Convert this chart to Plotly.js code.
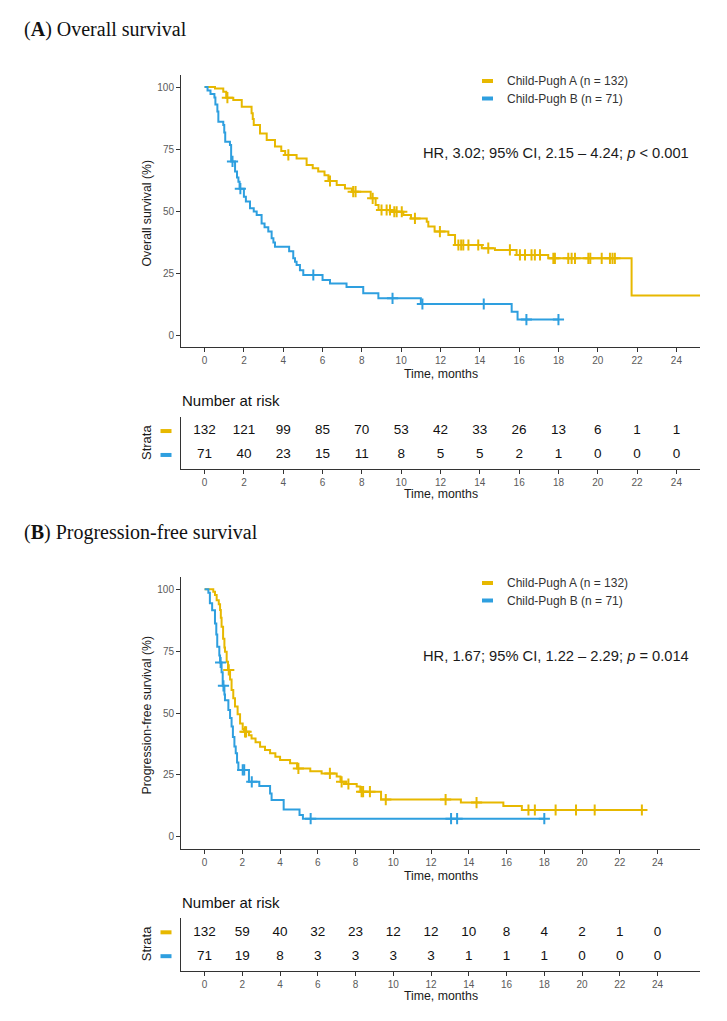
<!DOCTYPE html>
<html><head><meta charset="utf-8">
<script src="https://cdn.plot.ly/plotly-3.0.1.min.js"></script>
<style>html,body{margin:0;padding:0;background:#fff;}#chart{width:727px;height:1021px;}</style>
</head><body><div id="chart"></div>
<script>
// ---------- DATA ----------
const groupNames = ['Child-Pugh A (n = 132)', 'Child-Pugh B (n = 71)'];
const riskTimes = [0, 2, 4, 6, 8, 10, 12, 14, 16, 18, 20, 22, 24];

// Overall survival — Child-Pugh A
const osA_time = [0, 0.53, 0.95, 1.1, 1.46, 1.89, 2.39, 2.45, 2.5, 2.82, 3.16, 3.58, 3.9, 4.1, 4.68, 5.19, 5.5, 5.78, 6.1, 6.3, 6.72, 7.14, 7.5, 8.45, 8.7, 8.85, 9.55, 10.11, 10.5, 11.3, 11.38, 11.7, 12.4, 12.74, 14.1, 14.77, 15.87, 17.48, 21.72, 25.5];
const osA_surv = [100, 99.4, 98.1, 95.7, 94.8, 92.0, 89.4, 87.1, 84.7, 81.3, 78.6, 76.0, 74.2, 72.6, 71.2, 68.5, 67.2, 65.9, 64.4, 62.1, 60.5, 59.1, 57.8, 55.1, 52.4, 50.4, 49.7, 48.4, 47.0, 45.7, 43.7, 41.7, 40.3, 36.3, 35.0, 34.3, 32.3, 30.9, 15.9, 15.9];
const osA_censor = [1.16, 4.26, 6.38, 7.56, 7.68, 8.55, 9.0, 9.26, 9.43, 9.65, 9.77, 10.03, 10.7, 11.97, 12.91, 13.05, 13.16, 13.42, 13.92, 14.43, 15.53, 16.04, 16.3, 16.63, 16.8, 17.06, 17.74, 17.82, 18.5, 18.67, 18.84, 19.52, 19.62, 20.2, 20.62, 20.75, 20.87];

// Overall survival — Child-Pugh B
const osB_time = [0, 0.15, 0.3, 0.5, 0.55, 0.65, 0.7, 0.95, 1.0, 1.05, 1.29, 1.35, 1.55, 1.65, 1.72, 1.78, 2.0, 2.1, 2.31, 2.5, 2.65, 2.9, 3.05, 3.24, 3.41, 3.5, 3.58, 4.3, 4.51, 4.6, 4.68, 4.85, 5.02, 6.0, 6.38, 7.22, 8.07, 8.84, 11.0, 15.62, 15.92, 18.0];
const osB_surv = [100, 98.6, 97.2, 95.8, 92.9, 90.1, 86.0, 84.7, 81.7, 77.9, 76.6, 70.0, 65.9, 63.5, 61.8, 59.0, 55.7, 53.8, 51.1, 49.8, 48.4, 45.0, 43.4, 41.7, 39.0, 37.3, 35.6, 33.8, 30.9, 29.5, 28.2, 26.1, 24.2, 22.2, 20.8, 19.4, 16.8, 14.8, 12.5, 9.4, 6.2, 6.2];
const osB_censor = [1.42, 1.82, 5.53, 9.56, 11.08, 14.2, 16.37, 18.0];

// Progression-free survival — Child-Pugh A
const pfsA_time = [0, 0.46, 0.55, 0.64, 0.75, 0.82, 0.86, 0.9, 0.98, 1.05, 1.08, 1.17, 1.24, 1.35, 1.43, 1.52, 1.61, 1.75, 1.88, 2.02, 2.08, 2.35, 2.49, 2.7, 2.94, 3.2, 3.47, 3.75, 4.0, 4.53, 4.9, 5.6, 6.2, 7.0, 7.2, 7.5, 8.06, 8.25, 9.35, 13.58, 15.83, 16.81, 23.17];
const pfsA_surv = [100, 99.0, 97.7, 95.6, 93.9, 91.6, 88.5, 84.9, 80.0, 76.5, 74.8, 70.7, 67.4, 63.5, 59.3, 56.0, 52.6, 49.5, 45.8, 43.5, 42.4, 41.0, 39.7, 38.2, 36.4, 35.0, 33.7, 32.3, 31.0, 29.7, 27.6, 26.5, 25.6, 24.3, 22.2, 21.3, 20.3, 18.2, 15.0, 13.8, 12.4, 10.8, 10.8];
const pfsA_censor = [1.28, 2.14, 2.2, 4.97, 6.64, 7.26, 7.62, 8.32, 8.4, 8.76, 9.6, 12.77, 14.41, 17.16, 17.5, 18.6, 19.68, 20.67, 23.17];

// Progression-free survival — Child-Pugh B
const pfsB_time = [0, 0.2, 0.28, 0.4, 0.55, 0.62, 0.67, 0.78, 0.82, 0.9, 0.96, 1.05, 1.08, 1.26, 1.35, 1.43, 1.5, 1.58, 1.65, 1.72, 1.79, 2.35, 2.9, 3.47, 3.55, 4.19, 5.03, 5.21, 18.0];
const pfsB_surv = [100, 98.6, 94.4, 91.5, 86.2, 81.7, 76.8, 73.2, 70.4, 66.5, 61.0, 57.5, 55.2, 51.2, 48.0, 44.5, 40.3, 36.5, 33.7, 30.0, 27.0, 22.2, 20.5, 17.5, 14.8, 11.05, 8.8, 7.3, 7.3];
const pfsB_censor = [0.85, 1.0, 2.02, 2.1, 2.5, 5.62, 13.06, 13.38, 18.0];

// Numbers at risk
const osRiskA = [132, 121, 99, 85, 70, 53, 42, 33, 26, 13, 6, 1, 1];
const osRiskB = [71, 40, 23, 15, 11, 8, 5, 5, 2, 1, 0, 0, 0];
const pfsRiskA = [132, 59, 40, 32, 23, 12, 12, 10, 8, 4, 2, 1, 0];
const pfsRiskB = [71, 19, 8, 3, 3, 3, 3, 1, 1, 1, 0, 0, 0];

const osHR = 'HR, 3.02; 95% CI, 2.15 – 4.24; <i>p</i> &lt; 0.001';
const pfsHR = 'HR, 1.67; 95% CI, 1.22 – 2.29; <i>p</i> = 0.014';

// ---------- STYLE ----------
const COL = ['#E7B800', '#2E9FDF'];
const W = 727, H = 1021;
const fx = p => p / W, fy = p => 1 - p / H;
const SANS = 'Liberation Sans, Arial, sans-serif';

function survAt(times, surv, t) {
  let v = surv[0];
  for (let i = 0; i < times.length; i++) { if (times[i] <= t) v = surv[i]; else break; }
  return v;
}

const traces = [];
function addCurve(times, surv, cens, col, xa, ya) {
  traces.push({x: times, y: surv, xaxis: xa, yaxis: ya, mode: 'lines', type: 'scatter',
    line: {shape: 'hv', color: col, width: 2}, showlegend: false, hoverinfo: 'skip'});
  traces.push({x: cens, y: cens.map(t => survAt(times, surv, t)), xaxis: xa, yaxis: ya,
    mode: 'markers', type: 'scatter', showlegend: false, hoverinfo: 'skip',
    marker: {symbol: 'cross-thin', size: 8, color: col, line: {width: 2, color: col}}});
}
addCurve(osA_time, osA_surv, osA_censor, COL[0], 'x', 'y');
addCurve(osB_time, osB_surv, osB_censor, COL[1], 'x', 'y');
addCurve(pfsA_time, pfsA_surv, pfsA_censor, COL[0], 'x3', 'y3');
addCurve(pfsB_time, pfsB_surv, pfsB_censor, COL[1], 'x3', 'y3');

function addRisk(vals, row, xa, ya) {
  traces.push({x: riskTimes, y: riskTimes.map(() => row), text: vals.map(String), mode: 'text',
    type: 'scatter', xaxis: xa, yaxis: ya, cliponaxis: false, showlegend: false, hoverinfo: 'skip',
    textfont: {family: SANS, size: 13.5, color: '#111'}});
}
addRisk(osRiskA, 2, 'x2', 'y2');
addRisk(osRiskB, 1, 'x2', 'y2');
addRisk(pfsRiskA, 2, 'x4', 'y4');
addRisk(pfsRiskB, 1, 'x4', 'y4');

const tickFont = {family: SANS, size: 10, color: '#5a5a5a'};
function xAx(range, anchor) {
  return {domain: [fx(181), fx(700)], range: range, anchor: anchor, tickvals: riskTimes,
    ticks: 'outside', ticklen: 4, tickwidth: 1, tickcolor: '#333', showline: true,
    linecolor: '#333', linewidth: 1, zeroline: false, showgrid: false, tickfont: tickFont, fixedrange: true};
}
function yAx(top, bottom, anchor) {
  return {domain: [fy(bottom), fy(top)], range: [-5, 105], anchor: anchor, tickvals: [0, 25, 50, 75, 100],
    ticks: 'outside', ticklen: 4, tickwidth: 1, tickcolor: '#333', showline: true,
    linecolor: '#333', linewidth: 1, zeroline: false, showgrid: false, tickfont: tickFont, fixedrange: true};
}
function yTab(top, bottom, anchor) {
  return {domain: [fy(bottom), fy(top)], range: [0.4, 2.6], anchor: anchor, showticklabels: false,
    ticks: '', showline: true, linecolor: '#333', linewidth: 1, zeroline: false, showgrid: false, fixedrange: true};
}

const ann = [];
const shapes = [];
function txt(text, x, y, opts) {
  ann.push(Object.assign({text: text, x: fx(x), y: fy(y), xref: 'paper', yref: 'paper',
    showarrow: false, xanchor: 'left', yanchor: 'middle',
    font: {family: SANS, size: 12, color: '#1a1a1a'}}, opts || {}));
}
function swatch(x0, x1, y, col) {
  shapes.push({type: 'line', xref: 'paper', yref: 'paper', x0: fx(x0), x1: fx(x1), y0: fy(y), y1: fy(y),
    line: {color: col, width: 4}});
}

function panel(letter, title, yTitle, hr, off, plotTop, plotBot, tabTop, tabBot) {
  txt('(<b>' + letter + '</b>) ' + title, 22, 30 + off, {font: {family: 'Liberation Serif, Times New Roman, serif', size: 20, color: '#111'}});
  // legend
  swatch(482, 493, 81 + off, COL[0]);
  swatch(482, 493, 98.5 + off, COL[1]);
  txt(groupNames[0], 505, 81 + off, {font: {family: SANS, size: 12, color: '#333'}});
  txt(groupNames[1], 505, 98.5 + off, {font: {family: SANS, size: 12, color: '#333'}});
  // HR
  txt(hr, 421, 153.5 + off, {font: {family: SANS, size: 14.7, color: '#1a1a1a'}});
  // axis titles
  txt(yTitle, 146.5, (plotTop + plotBot) / 2 + 2, {xanchor: 'center', textangle: -90, font: {family: SANS, size: 12.3, color: '#1a1a1a'}});
  txt('Time, months', 440.5, plotBot + 27, {xanchor: 'center', font: {family: SANS, size: 12.3, color: '#1a1a1a'}});
  // risk table
  txt('Number at risk', 180, tabTop - 16, {font: {family: SANS, size: 15, color: '#111'}});
  txt('Strata', 146, (tabTop + tabBot) / 2, {xanchor: 'center', textangle: -90, font: {family: SANS, size: 13, color: '#1a1a1a'}});
  const unit = (tabBot - tabTop) / 2.2;
  swatch(160.5, 171.5, tabBot - 1.6 * unit, COL[0]);
  swatch(160.5, 171.5, tabBot - 0.6 * unit, COL[1]);
  txt('Time, months', 440.5, tabBot + 25, {xanchor: 'center', font: {family: SANS, size: 12.3, color: '#1a1a1a'}});
}
panel('A', 'Overall survival', 'Overall survival (%)', osHR, 0, 74.6, 347.4, 416.7, 469.3);
panel('B', 'Progression-free survival', 'Progression-free survival (%)', pfsHR, 502, 576.9, 849.1, 918, 970.5);

const layout = {
  width: W, height: H, margin: {l: 0, r: 0, t: 0, b: 0},
  paper_bgcolor: '#fff', plot_bgcolor: '#fff', showlegend: false,
  xaxis: xAx([-1.2, 25.2], 'y'),
  yaxis: yAx(74.6, 347.4, 'x'),
  xaxis2: xAx([-1.2, 25.2], 'y2'),
  yaxis2: yTab(416.7, 469.3, 'x2'),
  xaxis3: xAx([-1.25, 26.25], 'y3'),
  yaxis3: yAx(576.9, 849.1, 'x3'),
  xaxis4: xAx([-1.25, 26.25], 'y4'),
  yaxis4: yTab(918, 970.5, 'x4'),
  annotations: ann, shapes: shapes
};
Plotly.newPlot('chart', traces, layout, {staticPlot: true, displayModeBar: false});
</script></body></html>
